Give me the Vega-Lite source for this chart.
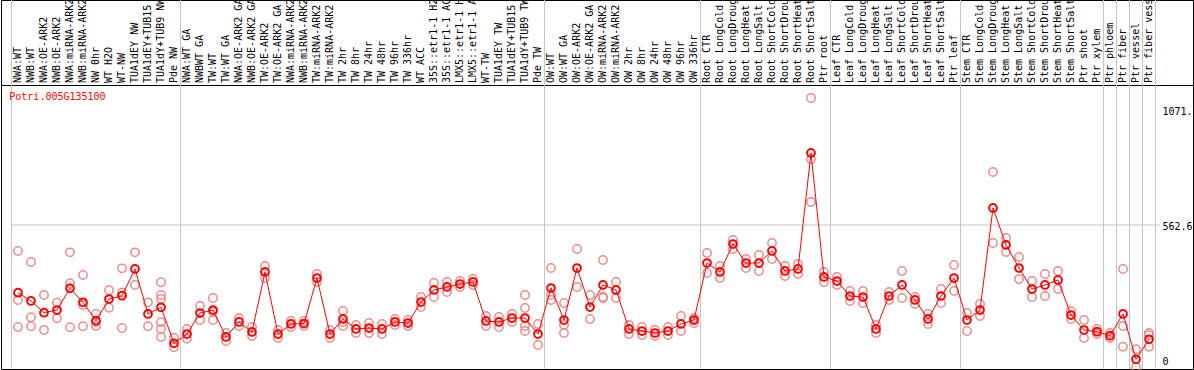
{
  "$schema": "https://vega.github.io/schema/vega-lite/v6.json",
  "width": 1192,
  "height": 369,
  "autosize": {"type": "none"},
  "padding": {"left": 1, "top": 0, "right": 1, "bottom": 1},
  "background": "white",
  "config": {"view": {"stroke": "black", "strokeWidth": 1}, "font": "DejaVu Sans Mono"},
  "datasets": {
    "samples": [
      {"idx": 1, "label": "NWA:WT", "mean": 294.4},
      {"idx": 2, "label": "NWB:WT", "mean": 261.5},
      {"idx": 3, "label": "NWA:OE-ARK2", "mean": 215.1},
      {"idx": 4, "label": "NWB:OE-ARK2", "mean": 225.8},
      {"idx": 5, "label": "NWA:miRNA-ARK2", "mean": 311.8},
      {"idx": 6, "label": "NWB:miRNA-ARK2", "mean": 256.3},
      {"idx": 7, "label": "NW 0hr", "mean": 183.4},
      {"idx": 8, "label": "WT H2O", "mean": 269.4},
      {"idx": 9, "label": "WT-NW", "mean": 282.5},
      {"idx": 10, "label": "TUA1dEY NW", "mean": 388.3},
      {"idx": 11, "label": "TUA1dEY+TUB15", "mean": 210.0},
      {"idx": 12, "label": "TUA1dY+TUB9 NW", "mean": 236.5},
      {"idx": 13, "label": "Pde NW", "mean": 93.9},
      {"idx": 14, "label": "NWA:WT GA", "mean": 130.7},
      {"idx": 15, "label": "NWBWT GA", "mean": 213.9},
      {"idx": 16, "label": "TW:WT", "mean": 225.8},
      {"idx": 17, "label": "TW:WT GA", "mean": 118.9},
      {"idx": 18, "label": "NWA:OE-ARK2 GA", "mean": 178.3},
      {"idx": 19, "label": "NWB:OE-ARK2 GA", "mean": 138.7},
      {"idx": 20, "label": "TW:OE-ARK2", "mean": 376.4},
      {"idx": 21, "label": "TW:OE-ARK2 GA", "mean": 130.7},
      {"idx": 22, "label": "NWA:miRNA-ARK2", "mean": 170.4},
      {"idx": 23, "label": "NWB:miRNA-ARK2", "mean": 172.3},
      {"idx": 24, "label": "TW:miRNA-ARK2", "mean": 352.6},
      {"idx": 25, "label": "TW:miRNA-ARK2", "mean": 130.7},
      {"idx": 26, "label": "TW 2hr", "mean": 190.2},
      {"idx": 27, "label": "TW 8hr", "mean": 150.6},
      {"idx": 28, "label": "TW 24hr", "mean": 154.5},
      {"idx": 29, "label": "TW 48hr", "mean": 150.6},
      {"idx": 30, "label": "TW 96hr", "mean": 178.3},
      {"idx": 31, "label": "TW 336hr", "mean": 174.3},
      {"idx": 32, "label": "WT ACC", "mean": 257.5},
      {"idx": 33, "label": "35S::etr1-1 H2", "mean": 305.1},
      {"idx": 34, "label": "35S::etr1-1 AC", "mean": 317.0},
      {"idx": 35, "label": "LMX5::etr1-1 H", "mean": 328.8},
      {"idx": 36, "label": "LMX5::etr1-1 A", "mean": 336.8},
      {"idx": 37, "label": "WT-TW", "mean": 182.3},
      {"idx": 38, "label": "TUA1dEY TW", "mean": 178.3},
      {"idx": 39, "label": "TUA1dEY+TUB15", "mean": 194.1},
      {"idx": 40, "label": "TUA1dY+TUB9 TW", "mean": 194.1},
      {"idx": 41, "label": "Pde TW", "mean": 130.7},
      {"idx": 42, "label": "OW:WT", "mean": 313.0},
      {"idx": 43, "label": "OW:WT GA", "mean": 186.2},
      {"idx": 44, "label": "OW:OE-ARK2", "mean": 392.2},
      {"idx": 45, "label": "OW:OE-ARK2 GA", "mean": 237.7},
      {"idx": 46, "label": "OW:miRNA-ARK2", "mean": 324.9},
      {"idx": 47, "label": "OW:miRNA-ARK2", "mean": 305.1},
      {"idx": 48, "label": "OW 2hr", "mean": 150.6},
      {"idx": 49, "label": "OW 8hr", "mean": 142.6},
      {"idx": 50, "label": "OW 24hr", "mean": 134.7},
      {"idx": 51, "label": "OW 48hr", "mean": 142.6},
      {"idx": 52, "label": "OW 96hr", "mean": 170.4},
      {"idx": 53, "label": "OW 336hr", "mean": 186.2},
      {"idx": 54, "label": "Root CTR", "mean": 412.0},
      {"idx": 55, "label": "Root LongCold", "mean": 376.4},
      {"idx": 56, "label": "Root LongDroug", "mean": 487.3},
      {"idx": 57, "label": "Root LongHeat", "mean": 412.0},
      {"idx": 58, "label": "Root LongSalt", "mean": 412.0},
      {"idx": 59, "label": "Root ShortCold", "mean": 459.6},
      {"idx": 60, "label": "Root ShortDrou", "mean": 380.4},
      {"idx": 61, "label": "Root ShortHeat", "mean": 388.3},
      {"idx": 62, "label": "Root ShortSalt", "mean": 847.9},
      {"idx": 63, "label": "Ptr root", "mean": 356.6},
      {"idx": 64, "label": "Leaf CTR", "mean": 340.7},
      {"idx": 65, "label": "Leaf LongCold", "mean": 281.3},
      {"idx": 66, "label": "Leaf LongDroug", "mean": 277.3},
      {"idx": 67, "label": "Leaf LongHeat", "mean": 150.6},
      {"idx": 68, "label": "Leaf LongSalt", "mean": 281.3},
      {"idx": 69, "label": "Leaf ShortCold", "mean": 324.9},
      {"idx": 70, "label": "Leaf ShortDrou", "mean": 265.5},
      {"idx": 71, "label": "Leaf ShortHeat", "mean": 190.2},
      {"idx": 72, "label": "Leaf ShortSalt", "mean": 281.3},
      {"idx": 73, "label": "Ptr leaf", "mean": 352.6},
      {"idx": 74, "label": "Stem CTR", "mean": 186.2},
      {"idx": 75, "label": "Stem LongCold", "mean": 225.8},
      {"idx": 76, "label": "Stem LongDroug", "mean": 630.0},
      {"idx": 77, "label": "Stem LongHeat", "mean": 483.4},
      {"idx": 78, "label": "Stem LongSalt", "mean": 392.2},
      {"idx": 79, "label": "Stem ShortCold", "mean": 309.0},
      {"idx": 80, "label": "Stem ShortDrou", "mean": 324.9},
      {"idx": 81, "label": "Stem ShortHeat", "mean": 344.7},
      {"idx": 82, "label": "Stem ShortSalt", "mean": 206.0},
      {"idx": 83, "label": "Ptr shoot", "mean": 146.6},
      {"idx": 84, "label": "Ptr xylem", "mean": 139.9},
      {"idx": 85, "label": "Ptr phloem", "mean": 124.0},
      {"idx": 86, "label": "Ptr fiber", "mean": 210.0},
      {"idx": 87, "label": "Ptr vessel", "mean": 30.5},
      {"idx": 88, "label": "Ptr fiber vess", "mean": 109.7}
    ],
    "reps": [
      {"idx": 1, "value": 459.6}, {"idx": 1, "value": 265.5}, {"idx": 1, "value": 158.5},
      {"idx": 2, "value": 416.0}, {"idx": 2, "value": 196.9}, {"idx": 2, "value": 161.3},
      {"idx": 3, "value": 285.3}, {"idx": 3, "value": 146.6},
      {"idx": 4, "value": 254.8}, {"idx": 4, "value": 192.9},
      {"idx": 5, "value": 454.4}, {"idx": 5, "value": 331.6}, {"idx": 5, "value": 157.3},
      {"idx": 6, "value": 364.5}, {"idx": 6, "value": 245.6}, {"idx": 6, "value": 161.3},
      {"idx": 7, "value": 210.0}, {"idx": 7, "value": 178.3}, {"idx": 7, "value": 162.4},
      {"idx": 8, "value": 303.9}, {"idx": 8, "value": 234.9},
      {"idx": 9, "value": 391.0}, {"idx": 9, "value": 294.4}, {"idx": 9, "value": 154.5},
      {"idx": 10, "value": 454.4}, {"idx": 10, "value": 324.9},
      {"idx": 11, "value": 256.3}, {"idx": 11, "value": 161.3},
      {"idx": 12, "value": 335.6}, {"idx": 12, "value": 285.3}, {"idx": 12, "value": 269.4}, {"idx": 12, "value": 177.1}, {"idx": 12, "value": 150.6}, {"idx": 12, "value": 118.9},
      {"idx": 13, "value": 116.1}, {"idx": 13, "value": 78.1},
      {"idx": 14, "value": 150.6}, {"idx": 14, "value": 112.1},
      {"idx": 15, "value": 241.7}, {"idx": 15, "value": 186.2},
      {"idx": 16, "value": 273.4}, {"idx": 16, "value": 217.9}, {"idx": 16, "value": 186.2},
      {"idx": 17, "value": 134.7}, {"idx": 17, "value": 103.0},
      {"idx": 18, "value": 194.1}, {"idx": 18, "value": 162.4},
      {"idx": 19, "value": 158.5}, {"idx": 19, "value": 122.8},
      {"idx": 20, "value": 400.2}, {"idx": 20, "value": 352.6},
      {"idx": 21, "value": 146.6}, {"idx": 21, "value": 114.9},
      {"idx": 22, "value": 182.3}, {"idx": 22, "value": 158.5},
      {"idx": 23, "value": 182.3}, {"idx": 23, "value": 162.4},
      {"idx": 24, "value": 368.5}, {"idx": 24, "value": 336.8},
      {"idx": 25, "value": 146.6}, {"idx": 25, "value": 114.9},
      {"idx": 26, "value": 221.9}, {"idx": 26, "value": 178.3}, {"idx": 26, "value": 162.4},
      {"idx": 27, "value": 166.4}, {"idx": 27, "value": 134.7},
      {"idx": 28, "value": 174.3}, {"idx": 28, "value": 134.7},
      {"idx": 29, "value": 170.4}, {"idx": 29, "value": 130.7},
      {"idx": 30, "value": 190.2}, {"idx": 30, "value": 166.4},
      {"idx": 31, "value": 186.2}, {"idx": 31, "value": 162.4},
      {"idx": 32, "value": 277.3}, {"idx": 32, "value": 237.7},
      {"idx": 33, "value": 332.8}, {"idx": 33, "value": 277.3},
      {"idx": 34, "value": 336.8}, {"idx": 34, "value": 297.2},
      {"idx": 35, "value": 340.7}, {"idx": 35, "value": 317.0},
      {"idx": 36, "value": 348.7}, {"idx": 36, "value": 324.9},
      {"idx": 37, "value": 202.1}, {"idx": 37, "value": 162.4},
      {"idx": 38, "value": 198.1}, {"idx": 38, "value": 158.5},
      {"idx": 39, "value": 210.0}, {"idx": 39, "value": 178.3},
      {"idx": 40, "value": 285.3}, {"idx": 40, "value": 233.8}, {"idx": 40, "value": 162.4}, {"idx": 40, "value": 142.6},
      {"idx": 41, "value": 170.4}, {"idx": 41, "value": 87.2},
      {"idx": 42, "value": 392.2}, {"idx": 42, "value": 285.3}, {"idx": 42, "value": 265.5},
      {"idx": 43, "value": 253.6}, {"idx": 43, "value": 166.4}, {"idx": 43, "value": 134.7},
      {"idx": 44, "value": 467.5}, {"idx": 44, "value": 317.0},
      {"idx": 45, "value": 285.3}, {"idx": 45, "value": 190.2},
      {"idx": 46, "value": 423.9}, {"idx": 46, "value": 277.3}, {"idx": 46, "value": 273.4},
      {"idx": 47, "value": 336.8}, {"idx": 47, "value": 273.4},
      {"idx": 48, "value": 166.4}, {"idx": 48, "value": 130.7},
      {"idx": 49, "value": 158.5}, {"idx": 49, "value": 126.8},
      {"idx": 50, "value": 146.6}, {"idx": 50, "value": 122.8},
      {"idx": 51, "value": 158.5}, {"idx": 51, "value": 126.8},
      {"idx": 52, "value": 202.1}, {"idx": 52, "value": 142.6},
      {"idx": 53, "value": 194.1}, {"idx": 53, "value": 174.3},
      {"idx": 54, "value": 451.7}, {"idx": 54, "value": 372.4},
      {"idx": 55, "value": 400.2}, {"idx": 55, "value": 352.6},
      {"idx": 56, "value": 503.2}, {"idx": 56, "value": 467.5},
      {"idx": 57, "value": 427.9}, {"idx": 57, "value": 392.2},
      {"idx": 58, "value": 443.7}, {"idx": 58, "value": 380.4},
      {"idx": 59, "value": 491.3}, {"idx": 59, "value": 427.9},
      {"idx": 60, "value": 400.2}, {"idx": 60, "value": 360.5},
      {"idx": 61, "value": 408.1}, {"idx": 61, "value": 368.5},
      {"idx": 62, "value": 1065.8}, {"idx": 62, "value": 824.1}, {"idx": 62, "value": 653.7},
      {"idx": 63, "value": 376.4}, {"idx": 63, "value": 336.8},
      {"idx": 64, "value": 356.6}, {"idx": 64, "value": 324.9},
      {"idx": 65, "value": 301.1}, {"idx": 65, "value": 261.5},
      {"idx": 66, "value": 301.1}, {"idx": 66, "value": 253.6},
      {"idx": 67, "value": 166.4}, {"idx": 67, "value": 134.7},
      {"idx": 68, "value": 297.2}, {"idx": 68, "value": 265.5},
      {"idx": 69, "value": 380.4}, {"idx": 69, "value": 273.4},
      {"idx": 70, "value": 277.3}, {"idx": 70, "value": 249.6},
      {"idx": 71, "value": 210.0}, {"idx": 71, "value": 170.4},
      {"idx": 72, "value": 309.0}, {"idx": 72, "value": 253.6},
      {"idx": 73, "value": 404.1}, {"idx": 73, "value": 301.1},
      {"idx": 74, "value": 213.9}, {"idx": 74, "value": 142.6},
      {"idx": 75, "value": 249.6}, {"idx": 75, "value": 202.1},
      {"idx": 76, "value": 772.6}, {"idx": 76, "value": 491.3},
      {"idx": 77, "value": 511.1}, {"idx": 77, "value": 455.6},
      {"idx": 78, "value": 435.8}, {"idx": 78, "value": 348.7},
      {"idx": 79, "value": 340.7}, {"idx": 79, "value": 277.3},
      {"idx": 80, "value": 368.5}, {"idx": 80, "value": 281.3},
      {"idx": 81, "value": 380.4}, {"idx": 81, "value": 309.0},
      {"idx": 82, "value": 221.9}, {"idx": 82, "value": 190.2},
      {"idx": 83, "value": 186.2}, {"idx": 83, "value": 114.9},
      {"idx": 84, "value": 150.6}, {"idx": 84, "value": 130.7},
      {"idx": 85, "value": 134.7}, {"idx": 85, "value": 114.9},
      {"idx": 86, "value": 388.3}, {"idx": 86, "value": 162.4}, {"idx": 86, "value": 80.4},
      {"idx": 87, "value": 70.1}, {"idx": 87, "value": 0},
      {"idx": 88, "value": 134.7}, {"idx": 88, "value": 126.8}, {"idx": 88, "value": 80.4}
    ],
    "seps": [
      {"idx": 0.5}, {"idx": 13.5}, {"idx": 41.5}, {"idx": 53.5}, {"idx": 63.5}, {"idx": 73.5},
      {"idx": 84.5}, {"idx": 85.5}, {"idx": 86.5}, {"idx": 87.5}, {"idx": 88.5}
    ],
    "gene": [{"name": "Potri.005G135100"}],
    "grid": [{"v": 562.6}]
  },
  "layer": [
    {
      "data": {"name": "seps"},
      "mark": {"type": "rule", "color": "#c4c4c4", "strokeWidth": 1},
      "encoding": {
        "x": {
          "field": "idx", "type": "quantitative",
          "scale": {"domain": [-0.30769, 91.38462], "nice": false, "zero": false},
          "axis": {"orient": "top", "offset": -85, "labels": false, "ticks": false, "grid": false, "domain": true, "domainColor": "black", "domainWidth": 1, "title": null}
        }
      }
    },
    {
      "data": {"name": "grid"},
      "mark": {"type": "rule", "color": "#c4c4c4", "strokeWidth": 1},
      "encoding": {
        "x": {"datum": 0.5, "type": "quantitative"},
        "x2": {"datum": 88.85},
        "y": {
          "field": "v", "type": "quantitative",
          "scale": {"domain": [-7.924, 1454.04], "nice": false, "zero": false},
          "axis": {
            "orient": "right", "offset": -33, "values": [0, 562.6, 1071.3],
            "grid": false, "ticks": false, "domain": false, "title": null,
            "labelFont": "DejaVu Sans Mono", "labelFontSize": 10, "labelColor": "black",
            "labelPadding": 2, "labelAlign": "left", "labelBaseline": "middle",
            "labelExpr": "datum.value == 0 ? '0' : (datum.value > 1000 ? '1071.' : format(datum.value, '.1f'))",
            "labelOffset": {"condition": [{"test": "datum.value == 0", "value": -5}, {"test": "datum.value > 1000", "value": 15}], "value": 2}
          }
        }
      }
    },
    {
      "data": {"name": "reps"},
      "mark": {"type": "point", "shape": "circle", "filled": false, "stroke": "#ec8a8a", "strokeWidth": 1.5, "size": 70, "opacity": 1},
      "encoding": {
        "x": {"field": "idx", "type": "quantitative"},
        "y": {"field": "value", "type": "quantitative", "scale": {"domain": [-7.924, 1454.04], "nice": false, "zero": false}}
      }
    },
    {
      "data": {"name": "samples"},
      "mark": {"type": "line", "color": "#ff0000", "strokeWidth": 1},
      "encoding": {
        "x": {"field": "idx", "type": "quantitative"},
        "y": {"field": "mean", "type": "quantitative", "scale": {"domain": [-7.924, 1454.04], "nice": false, "zero": false}}
      }
    },
    {
      "data": {"name": "samples"},
      "mark": {"type": "point", "shape": "circle", "filled": false, "stroke": "#ff0000", "strokeWidth": 2, "size": 60, "opacity": 1},
      "encoding": {
        "x": {"field": "idx", "type": "quantitative"},
        "y": {"field": "mean", "type": "quantitative", "scale": {"domain": [-7.924, 1454.04], "nice": false, "zero": false}}
      }
    },
    {
      "data": {"name": "samples"},
      "mark": {"type": "text", "angle": 270, "align": "left", "baseline": "middle", "font": "DejaVu Sans Mono", "fontSize": 10, "color": "black"},
      "encoding": {
        "x": {"field": "idx", "type": "quantitative"},
        "y": {"datum": 1125.2, "type": "quantitative", "scale": {"domain": [-7.924, 1454.04], "nice": false, "zero": false}},
        "text": {"field": "label"}
      }
    },
    {
      "data": {"name": "gene"},
      "mark": {"type": "text", "align": "left", "baseline": "top", "font": "DejaVu Sans Mono", "fontSize": 10, "color": "#ff0000"},
      "encoding": {
        "x": {"datum": 0.33, "type": "quantitative"},
        "y": {"datum": 1090, "type": "quantitative", "scale": {"domain": [-7.924, 1454.04], "nice": false, "zero": false}},
        "text": {"field": "name"}
      }
    }
  ]
}
